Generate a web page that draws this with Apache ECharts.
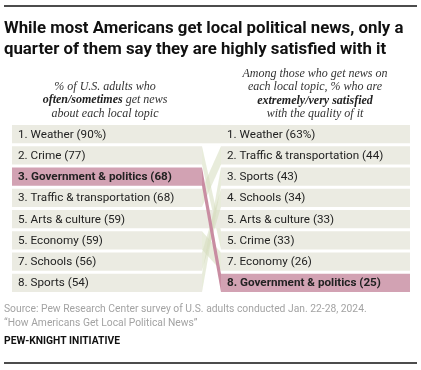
<!DOCTYPE html>
<html>
<head>
<meta charset="utf-8">
<script src="https://cdn.jsdelivr.net/npm/echarts@6/dist/echarts.min.js"></script>
<style>
html,body{margin:0;padding:0;background:#fff;}
#c{width:421px;height:370px;}
</style>
</head>
<body>
<div id="c"></div>
<script>
// Left column: % of U.S. adults who often/sometimes get news about each local topic
const leftTopics = ['Weather', 'Crime', 'Government & politics', 'Traffic & transportation', 'Arts & culture', 'Economy', 'Schools', 'Sports'];
const leftValues = [90, 77, 68, 68, 59, 59, 56, 54];
const leftRanks = [1, 2, 3, 3, 5, 5, 7, 8];
// Right column: among those who get news, % extremely/very satisfied
const rightTopics = ['Weather', 'Traffic & transportation', 'Sports', 'Schools', 'Arts & culture', 'Crime', 'Economy', 'Government & politics'];
const rightValues = [63, 44, 43, 34, 33, 33, 26, 25];
const rightRanks = [1, 2, 3, 4, 5, 5, 7, 8];
const highlightTopic = 'Government & politics';
const rowSlots = ['1', '2', '3', '4', '5', '6', '7', '8'];

const BEIGE = '#ebebe2';
const PINK = '#d2a2b3';
const RIBBON = 'rgba(214,220,190,0.55)';
const RIBBON_HL = '#c98da2';
const LABEL_FONT = '11.7px Roboto, "Liberation Sans", sans-serif';
const LABEL_FONT_B = 'bold 11.7px Roboto, "Liberation Sans", sans-serif';

// x extents (in axis units)
const XL0 = 0, XL1 = 190, XR0 = 209, XR1 = 398;

function makeLabel(rank, topic, value, idx) {
  return rank + '. ' + topic + ' (' + value + (idx === 0 ? '%' : '') + ')';
}

function barRenderer(topics, values, ranks, x0, x1) {
  return function (params, api) {
    const i = params.dataIndex;
    const row = api.value(0);
    const p0 = api.coord([x0, row]);
    const p1 = api.coord([x1, row]);
    const h = api.size([0, 1])[1] * 0.865;
    const hl = topics[i] === highlightTopic;
    return {
      type: 'group',
      children: [
        { type: 'rect', shape: { x: p0[0], y: p0[1] - h / 2, width: p1[0] - p0[0], height: h }, style: { fill: hl ? PINK : BEIGE } },
        { type: 'text', x: p0[0] + 6, y: p0[1] + 0.5, style: { text: makeLabel(ranks[i], topics[i], values[i], i), fill: '#222', font: hl ? LABEL_FONT_B : LABEL_FONT, verticalAlign: 'middle', align: 'left' } }
      ]
    };
  };
}

const ribbonData = leftTopics.map((t, i) => [i, rightTopics.indexOf(t), t === highlightTopic ? 1 : 0]);
ribbonData.sort((a, b) => a[2] - b[2]);

function ribbonRenderer(params, api) {
  const li = api.value(0), ri = api.value(1), hl = api.value(2);
  const h = api.size([0, 1])[1] * 0.865;
  const a = api.coord([XL1, li]);
  const b = api.coord([XR0, ri]);
  return {
    type: 'polygon',
    shape: { points: [[a[0], a[1] - h / 2], [b[0], b[1] - h / 2], [b[0], b[1] + h / 2], [a[0], a[1] + h / 2]] },
    style: { fill: hl ? RIBBON_HL : (li === ri ? BEIGE : RIBBON) }
  };
}

const chart = echarts.init(document.getElementById('c'), null, { renderer: 'canvas' });
const serif = '"Liberation Serif", "DejaVu Serif", serif';
const titleFont = 'Roboto, "Liberation Sans", sans-serif';

chart.setOption({
  animation: false,
  grid: { left: 12, right: 11, top: 123.5, height: 170 },
  xAxis: { type: 'value', min: XL0, max: XR1, show: false },
  yAxis: { type: 'category', data: rowSlots, inverse: true, show: false },
  series: [
    { type: 'custom', renderItem: ribbonRenderer, data: ribbonData, z: 1 },
    { type: 'custom', renderItem: barRenderer(leftTopics, leftValues, leftRanks, XL0, XL1), data: leftTopics.map((t, i) => [i]), z: 2 },
    { type: 'custom', renderItem: barRenderer(rightTopics, rightValues, rightRanks, XR0, XR1), data: rightTopics.map((t, i) => [i]), z: 2 }
  ],
  graphic: [
    { type: 'line', shape: { x1: 4, y1: 6, x2: 417, y2: 6 }, style: { stroke: '#111', lineWidth: 1.3 } },
    { type: 'text', left: 4, top: 18, style: { text: 'While most Americans get local political news, only a\nquarter of them say they are highly satisfied with it', font: 'bold 16.8px ' + titleFont, fill: '#111', lineHeight: 21 } },
    { type: 'text', x: 105, y: 80, style: { rich: {
        n: { font: 'italic 12px ' + serif, fill: '#333' },
        b: { font: 'italic bold 12px ' + serif, fill: '#222' }
      }, text: '{n|% of U.S. adults who}\n{b|often/sometimes}{n| get news}\n{n|about each local topic}', align: 'center', lineHeight: 13.5 } },
    { type: 'text', x: 315, y: 67, style: { rich: {
        n: { font: 'italic 12px ' + serif, fill: '#333' },
        b: { font: 'italic bold 12px ' + serif, fill: '#222' }
      }, text: '{n|Among those who get news on}\n{n|each local topic, % who are}\n{b|extremely/very satisfied}\n{n|with the quality of it}', align: 'center', lineHeight: 13.5 } },
    { type: 'text', left: 4, top: 302, style: { text: 'Source: Pew Research Center survey of U.S. adults conducted Jan. 22-28, 2024.\n“How Americans Get Local Political News”', font: '10.3px Roboto, "Liberation Sans", sans-serif', fill: '#a3a3a3', lineHeight: 14 } },
    { type: 'text', left: 4, top: 336, style: { text: 'PEW-KNIGHT INITIATIVE', font: 'bold 10.3px Roboto, "Liberation Sans", sans-serif', fill: '#111' } },
    { type: 'line', shape: { x1: 4, y1: 363, x2: 417, y2: 363 }, style: { stroke: '#111', lineWidth: 1.3 } }
  ]
});
</script>
</body>
</html>
